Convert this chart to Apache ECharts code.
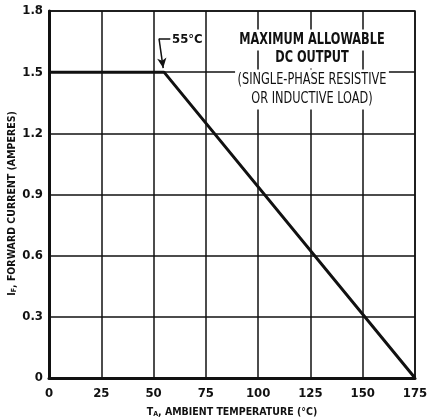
<!DOCTYPE html>
<html>
<head>
<meta charset="utf-8">
<script src="https://cdn.jsdelivr.net/npm/echarts@6/dist/echarts.min.js"></script>
<style>
  html, body { margin: 0; padding: 0; background: #fff; }
  #main { width: 430px; height: 419px; }
</style>
</head>
<body>
<div id="main"></div>
<script>
// derating curve
var tempC   = [0, 55, 175];
var currentA = [1.5, 1.5, 0];
var xTicks = [0, 25, 50, 75, 100, 125, 150, 175];
var yTicks = [0, 0.3, 0.6, 0.9, 1.2, 1.5, 1.8];
// leader for the 55°C note (data units)
var noteBend = [52.6, 1.665];
var noteEnd  = [58, 1.665];
var noteTip  = [54.6, 1.52];

var FONT = '"Liberation Sans Narrow", "DejaVu Sans Condensed", "Liberation Sans", sans-serif';

var pts = [];
for (var i = 0; i < tempC.length; i++) pts.push([tempC[i], currentA[i]]);

var myChart = echarts.init(document.getElementById('main'));

function boxText(txt, y, bold) {
    return { type: 'text', x: 312, y: y, z: 10, scaleX: 0.84,
        style: { text: txt, align: 'center', verticalAlign: 'middle', fontFamily: FONT,
                 fontWeight: bold ? 'bold' : 'normal', fontSize: 15, fill: '#111',
                 backgroundColor: '#fff', padding: [3, 3] } };
}

var nameRich = {
    m: { fontFamily: FONT, fontWeight: 'bold', fontSize: 10.5, color: '#111' },
    s: { fontFamily: FONT, fontWeight: 'bold', fontSize: 7, color: '#111', verticalAlign: 'bottom', padding: [5, 0, 0, 0] }
};

var option = {
    animation: false,
    backgroundColor: '#fff',
    grid: { left: 49, top: 11, right: 15, bottom: 41, outerBoundsMode: 'none', containLabel: false,
            show: true, borderColor: '#111', borderWidth: 1.5 },
    xAxis: {
        type: 'value',
        min: 0, max: 175, interval: 25,
        axisLine: { show: true, lineStyle: { color: '#111', width: 3 } },
        axisTick: { show: false },
        splitLine: { show: true, lineStyle: { color: '#111', width: 1.5 } },
        axisLabel: {
            color: '#111', fontFamily: FONT, fontWeight: 'bold', fontSize: 13, margin: 9,
            formatter: function (v) { return xTicks.indexOf(v) >= 0 ? String(v) : ''; }
        },
        name: '{m|T}{s|A}{m|, AMBIENT TEMPERATURE (°C)}',
        nameLocation: 'middle',
        nameGap: 28,
        nameTextStyle: { rich: nameRich }
    },
    yAxis: {
        type: 'value',
        min: 0, max: 1.8, interval: 0.3,
        axisLine: { show: true, lineStyle: { color: '#111', width: 3 } },
        axisTick: { show: false },
        splitLine: { show: true, lineStyle: { color: '#111', width: 1.5 } },
        axisLabel: {
            color: '#111', fontFamily: FONT, fontWeight: 'bold', fontSize: 13, margin: 6,
            formatter: function (v) {
                for (var k = 0; k < yTicks.length; k++) {
                    if (Math.abs(yTicks[k] - v) < 1e-6) return v === 0 ? '0' : v.toFixed(1);
                }
                return '';
            }
        },
        name: '{m|I}{s|F}{m|, FORWARD CURRENT (AMPERES)}',
        nameLocation: 'middle',
        nameMoveOverlap: false,
        nameGap: 31,
        nameTextStyle: { padding: [0, 18, 0, 0], rich: nameRich }
    },
    series: [{
        type: 'line',
        data: pts,
        symbol: 'none',
        lineStyle: { color: '#111', width: 3 },
        z: 5,
        markLine: {
            silent: true,
            symbol: ['none', 'none'],
            label: { show: false },
            lineStyle: { color: '#111', width: 1.5, type: 'solid' },
            data: [
                [{ coord: noteEnd }, { coord: noteBend }],
                [{ coord: noteBend }, { coord: noteTip, symbol: 'arrow', symbolSize: [7, 10] }]
            ]
        }
    }],
    graphic: [
        { type: 'text', left: 172, top: 33, z: 10,
          style: { text: '55°C', fontFamily: FONT, fontWeight: 'bold', fontSize: 13, fill: '#111', backgroundColor: '#fff' } },
        boxText('MAXIMUM ALLOWABLE', 40, true),
        boxText('DC OUTPUT', 58, true),
        boxText('(SINGLE-PHASE RESISTIVE', 80, false),
        boxText('OR INDUCTIVE LOAD)', 99, false)
    ]
};

myChart.setOption(option);
</script>
</body>
</html>
